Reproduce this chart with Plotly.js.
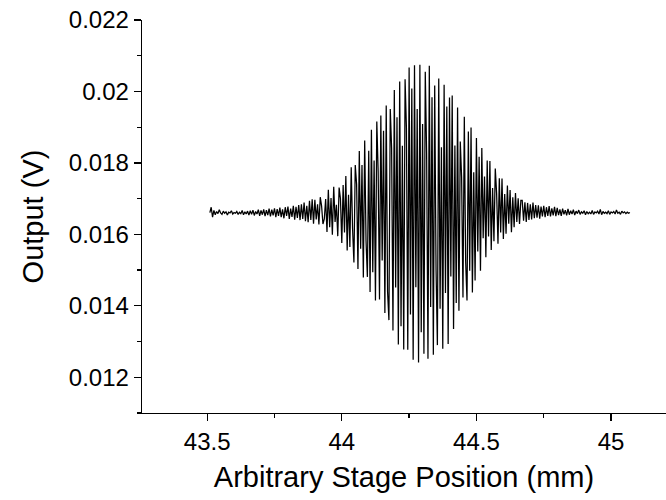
<!DOCTYPE html>
<html>
<head>
<meta charset="utf-8">
<script src="https://cdn.plot.ly/plotly-3.0.1.min.js"></script>
<style>html,body{margin:0;padding:0;background:#fff;}#chart{width:666px;height:500px;}</style>
</head>
<body>
<div id="chart"></div>
<script>
// Stage position sampling (mm): first sample and step between samples
const positionStart = 43.51;
const positionStep = 0.005;

// Detector output (V), one value per stage step
const outputVolts = [
0.01661,0.01676,0.01648,0.01667,0.01655,0.01664,0.01658,0.01669,0.01660,0.01656,
0.01665,0.01659,0.01663,0.01654,0.01662,0.01660,0.01666,0.01657,0.01661,0.01659,
0.01664,0.01656,0.01662,0.01658,0.01667,0.01655,0.01663,0.01657,0.01665,0.01654,
0.01666,0.01656,0.01668,0.01653,0.01664,0.01657,0.01669,0.01652,0.01667,0.01655,
0.01670,0.01651,0.01668,0.01654,0.01672,0.01650,0.01669,0.01653,0.01673,0.01648,
0.01671,0.01652,0.01675,0.01648,0.01670,0.01645,0.01676,0.01652,0.01678,0.01643,
0.01672,0.01649,0.01680,0.01641,0.01677,0.01646,0.01682,0.01640,0.01684,0.01643,
0.01689,0.01637,0.01680,0.01634,0.01694,0.01640,0.01698,0.01630,0.01697,0.01642,
0.01684,0.01628,0.01704,0.01679,0.01629,0.01643,0.01699,0.01607,0.01725,0.01620,
0.01702,0.01599,0.01733,0.01635,0.01683,0.01595,0.01731,0.01700,0.01576,0.01738,
0.01605,0.01763,0.01555,0.01711,0.01565,0.01788,0.01616,0.01521,0.01794,0.01740,
0.01503,0.01833,0.01560,0.01794,0.01479,0.01863,0.01582,0.01481,0.01834,0.01439,
0.01893,0.01494,0.01807,0.01415,0.01916,0.01777,0.01418,0.01933,0.01527,0.01890,
0.01380,0.01961,0.01440,0.01360,0.01951,0.01842,0.01331,0.02004,0.01451,0.01928,
0.01292,0.02028,0.01343,0.01848,0.01278,0.02034,0.01899,0.01277,0.02067,0.01376,
0.02008,0.01249,0.02073,0.01452,0.01951,0.01241,0.02075,0.01326,0.01909,0.01266,
0.02055,0.01827,0.01252,0.02072,0.01397,0.01984,0.01263,0.02017,0.01504,0.01290,
0.02036,0.01392,0.01844,0.01280,0.02019,0.01436,0.01958,0.01293,0.01983,0.01482,
0.01989,0.01335,0.01849,0.01408,0.01955,0.01386,0.01860,0.01760,0.01423,0.01929,
0.01524,0.01415,0.01888,0.01498,0.01899,0.01437,0.01774,0.01471,0.01870,0.01552,
0.01817,0.01498,0.01842,0.01589,0.01762,0.01536,0.01807,0.01594,0.01805,0.01556,
0.01730,0.01581,0.01784,0.01714,0.01574,0.01757,0.01605,0.01756,0.01587,0.01713,
0.01602,0.01737,0.01630,0.01724,0.01606,0.01704,0.01620,0.01716,0.01635,0.01701,
0.01629,0.01695,0.01695,0.01638,0.01690,0.01635,0.01688,0.01640,0.01684,0.01642,
0.01689,0.01645,0.01682,0.01647,0.01681,0.01644,0.01678,0.01650,0.01680,0.01648,
0.01676,0.01652,0.01679,0.01650,0.01673,0.01653,0.01677,0.01651,0.01674,0.01654,
0.01670,0.01652,0.01672,0.01656,0.01668,0.01653,0.01671,0.01655,0.01666,0.01657,
0.01669,0.01654,0.01665,0.01658,0.01668,0.01656,0.01663,0.01659,0.01666,0.01655,
0.01664,0.01658,0.01662,0.01657,0.01667,0.01656,0.01663,0.01660,0.01665,0.01657,
0.01670,0.01655,0.01664,0.01659,0.01662,0.01658,0.01666,0.01656,0.01663,0.01660,
0.01664,0.01657,0.01668,0.01659,0.01662,0.01656,0.01665,0.01660,0.01663,0.01658,
0.01662,0.01659,0.01661
];

// Axis labels and ranges
const xTitle = 'Arbitrary Stage Position (mm)';
const yTitle = 'Output (V)';
const xRange = [43.258, 45.204];
const yRange = [0.011, 0.022];

const font = 'Liberation Sans, Arial, sans-serif';

const trace = {
  type: 'scatter',
  mode: 'lines',
  x0: positionStart,
  dx: positionStep,
  y: outputVolts,
  line: {color: '#000000', width: 1.25},
  hoverinfo: 'skip'
};

const axisCommon = {
  showgrid: false,
  zeroline: false,
  showline: true,
  linecolor: '#000',
  linewidth: 1.3,
  ticks: 'outside',
  ticklen: 7,
  tickwidth: 1.3,
  tickcolor: '#000',
  tickfont: {family: font, size: 24, color: '#000'}
};

const layout = {
  width: 666,
  height: 500,
  margin: {l: 142, r: 0, t: 20, b: 87},
  paper_bgcolor: '#fff',
  plot_bgcolor: '#fff',
  showlegend: false,
  xaxis: Object.assign({}, axisCommon, {
    range: xRange,
    dtick: 0.5,
    tick0: 43.5,
    minor: {dtick: 0.25, ticks: 'outside', ticklen: 4, tickwidth: 1.3, tickcolor: '#000', showgrid: false},
    title: {text: xTitle, font: {family: font, size: 29, color: '#000'}, standoff: 12}
  }),
  yaxis: Object.assign({}, axisCommon, {
    range: yRange,
    dtick: 0.002,
    tick0: 0.012,
    minor: {dtick: 0.001, ticks: 'outside', ticklen: 4, tickwidth: 1.3, tickcolor: '#000', showgrid: false},
    title: {text: yTitle, font: {family: font, size: 29, color: '#000'}, standoff: 16}
  })
};

Plotly.newPlot('chart', [trace], layout, {displayModeBar: false, staticPlot: true});
</script>
</body>
</html>
